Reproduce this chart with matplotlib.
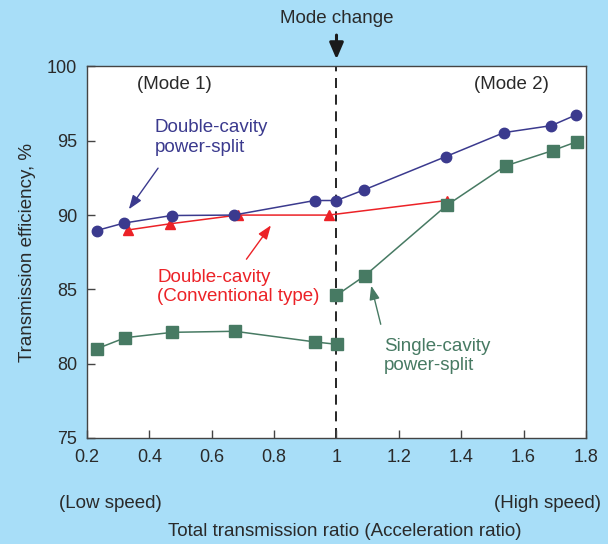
import matplotlib
matplotlib.use("Agg")
import matplotlib.pyplot as plt

plt.rcParams['font.family'] = ['Liberation Sans', 'DejaVu Sans']

# Double-cavity power-split
dps_x = [0.231, 0.318, 0.471, 0.670, 0.930, 1.000, 1.089, 1.351, 1.537, 1.689, 1.768]
dps_y = [88.96, 89.46, 89.97, 90.00, 90.98, 90.98, 91.70, 93.94, 95.55, 96.02, 96.74]

# Double-cavity (conventional type)
dct_x = [0.332, 0.465, 0.683, 0.975, 1.353]
dct_y = [89.00, 89.41, 90.00, 90.00, 90.98]

# Single-cavity power-split, mode 1 and mode 2 branches
scp1_x = [0.231, 0.323, 0.474, 0.674, 0.932, 1.002]
scp1_y = [81.00, 81.75, 82.11, 82.18, 81.46, 81.30]
scp2_x = [1.000, 1.091, 1.353, 1.542, 1.693, 1.772]
scp2_y = [84.60, 85.92, 90.65, 93.31, 94.34, 94.95]

x_ticks = [0.2, 0.4, 0.6, 0.8, 1.0, 1.2, 1.4, 1.6, 1.8]
x_tick_labels = ['0.2', '0.4', '0.6', '0.8', '1', '1.2', '1.4', '1.6', '1.8']
y_ticks = [75, 80, 85, 90, 95, 100]

BG = '#a8def8'
BLUE = '#3b3a8e'
RED = '#ec2227'
GREEN = '#477a63'
TXT = '#2a2a2a'
FS = 13.5
HEAD = '-|>,head_width=0.22,head_length=0.6'
BIG_HEAD = '-|>,head_width=0.3,head_length=0.7'

fig = plt.figure(figsize=(6.08, 5.44), dpi=100, facecolor=BG)
ax = fig.add_axes([0.1431, 0.1949, 0.8207, 0.6829])
ax.set_facecolor('white')

ax.set_xlim(0.2, 1.8)
ax.set_ylim(75, 100)

# mode change boundary
ax.axvline(1.0, color='black', lw=1.2, dashes=(6, 4), zorder=1)

ax.plot(dct_x, dct_y, color=RED, lw=1.1, marker='^', ms=7.5,
        markerfacecolor=RED, markeredgecolor=RED, zorder=3)
ax.plot(dps_x, dps_y, color=BLUE, lw=1.1, marker='o', ms=7.5,
        markerfacecolor=BLUE, markeredgecolor=BLUE, zorder=4)
ax.plot(scp1_x, scp1_y, color=GREEN, lw=1.1, marker='s', ms=8,
        markerfacecolor=GREEN, markeredgecolor=GREEN, zorder=3)
ax.plot(scp2_x, scp2_y, color=GREEN, lw=1.1, marker='s', ms=8,
        markerfacecolor=GREEN, markeredgecolor=GREEN, zorder=3)

ax.set_xticks(x_ticks)
ax.set_xticklabels(x_tick_labels)
ax.set_yticks(y_ticks)
ax.tick_params(axis='both', direction='in', length=6, width=1, color='#444444',
               labelsize=13, labelcolor=TXT)
ax.tick_params(axis='x', pad=8)
ax.tick_params(axis='y', pad=7)
for s in ax.spines.values():
    s.set_color('#444444')
    s.set_linewidth(1.0)

ax.text(0.481, 98.76, '(Mode 1)', ha='center', va='center', fontsize=FS, color=TXT)
ax.text(1.562, 98.76, '(Mode 2)', ha='center', va='center', fontsize=FS, color=TXT)

ax.text(0.417, 95.23, 'Double-cavity\npower-split', ha='left', va='center',
        fontsize=FS, color=BLUE, linespacing=1.2)
ax.annotate('', xy=(0.329, 90.24), xytext=(0.433, 93.31),
            arrowprops=dict(arrowstyle=HEAD, color=BLUE, lw=1.0, mutation_scale=14))

ax.text(0.426, 85.15, 'Double-cavity\n(Conventional type)', ha='left', va='center',
        fontsize=FS, color=RED, linespacing=1.2)
ax.annotate('', xy=(0.795, 89.46), xytext=(0.706, 86.88),
            arrowprops=dict(arrowstyle=HEAD, color=RED, lw=1.0, mutation_scale=14))

ax.text(1.152, 80.51, 'Single-cavity\npower-split', ha='left', va='center',
        fontsize=FS, color=GREEN, linespacing=1.2)
ax.annotate('', xy=(1.109, 85.43), xytext=(1.144, 82.47),
            arrowprops=dict(arrowstyle=HEAD, color=GREEN, lw=1.0, mutation_scale=14))

ax.annotate('', xy=(1.0, 100.3), xytext=(1.0, 102.3), annotation_clip=False,
            arrowprops=dict(arrowstyle=BIG_HEAD, color='#1a1a1a', lw=2.2, mutation_scale=14))
ax.text(1.0, 103.25, 'Mode change', ha='center', va='center', fontsize=FS,
        color=TXT, clip_on=False)

ax.set_ylabel('Transmission efficiency, %', fontsize=FS, color=TXT, labelpad=8)

fig.text(110 / 608, 1 - 503 / 544, '(Low speed)', ha='center', va='center',
         fontsize=FS, color=TXT)
fig.text(547 / 608, 1 - 503 / 544, '(High speed)', ha='center', va='center',
         fontsize=FS, color=TXT)
fig.text(345 / 608, 1 - 532 / 544, 'Total transmission ratio (Acceleration ratio)',
         ha='center', va='center', fontsize=FS, color=TXT)

fig.savefig('out.png', dpi=100, facecolor=BG)
